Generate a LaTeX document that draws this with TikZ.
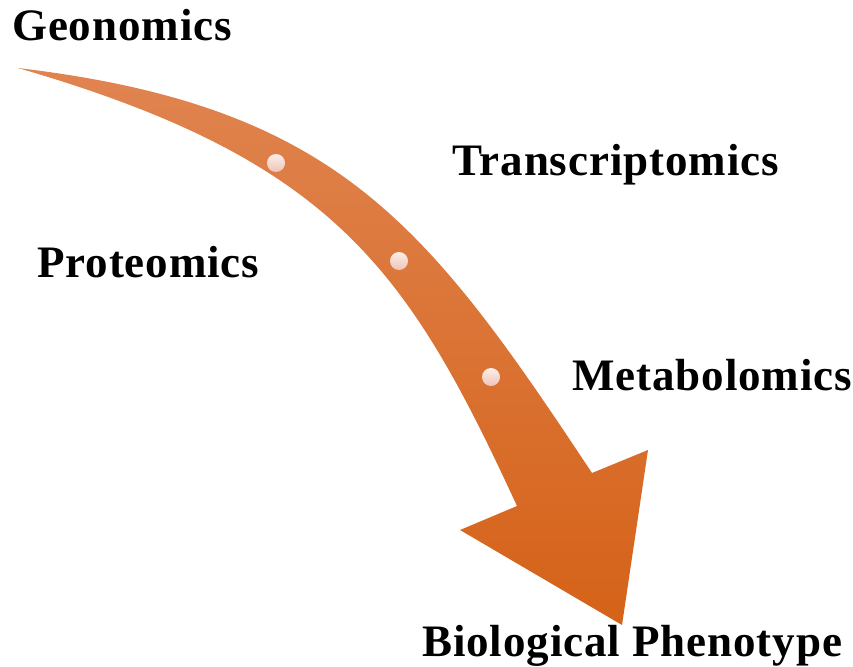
\documentclass[tikz,border=0pt]{standalone}
\usepackage{fontspec}
\setmainfont{Liberation Serif}[LetterSpace=2]
\definecolor{omicstop}{RGB}{224,132,80}
\definecolor{omicsbot}{RGB}{213,98,24}
\definecolor{beadtop}{RGB}{252,238,232}
\definecolor{beadbot}{RGB}{238,196,184}
\begin{document}
\begin{tikzpicture}[x=1pt, y=-1pt, line join=round, font=\fontsize{45}{50}\selectfont\bfseries,
	omics/.style={anchor=base west, inner sep=0pt},
	bead/.style={top color=beadtop, bottom color=beadbot}]
	\useasboundingbox (0,0) rectangle (853,666);
	% curved arrow body and head
	\shade[top color=omicstop, bottom color=omicsbot]
		(18,68) .. controls (338,106) and (427,224) .. (592,473)
		-- (648,450) -- (622,625) -- (460,530) -- (517,506)
		.. controls (408,270) and (335,160) .. (18,68) -- cycle;
	% beads on the arrow
	\shade[bead] (276,163) circle (9);
	\shade[bead] (399,261) circle (9);
	\shade[bead] (491,377) circle (9);
	% labels
	\node[omics] (geno) at (12,41) {Geonomics};
	\node[omics] (trans) at (452,175) {Transcriptomics};
	\node[omics] (prot) at (37,277) {Proteomics};
	\node[omics] (meta) at (572,390) {Metabolomics};
	\node[omics] (pheno) at (422,656) {Biological Phenotype};
\end{tikzpicture}
\end{document}
